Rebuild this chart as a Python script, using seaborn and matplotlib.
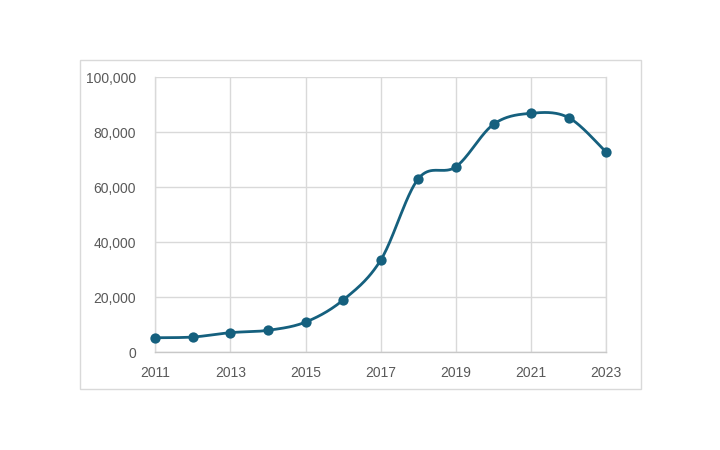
import numpy as np
import pandas as pd
import matplotlib
matplotlib.use("Agg")
import matplotlib.pyplot as plt
import seaborn as sns
from matplotlib.patches import Rectangle
from matplotlib.ticker import FuncFormatter

# ==============================
# DATI
# ==============================
years = [2011, 2012, 2013, 2014, 2015, 2016, 2017,
         2018, 2019, 2020, 2021, 2022, 2023]
values = [5200, 5450, 7050, 7900, 10900, 18950, 33500,
          63100, 67450, 82900, 86900, 85300, 72700]

x_ticks = [2011, 2013, 2015, 2017, 2019, 2021, 2023]
y_ticks = [0, 20000, 40000, 60000, 80000, 100000]

line_color = "#15607e"
grid_color = "#d9d9d9"
text_color = "#595959"

df = pd.DataFrame({"year": years, "value": values})


# curva "smooth" stile Excel (Bezier con punti di controllo Catmull-Rom)
def smooth_path(xs, ys, steps=40):
    xs = np.asarray(xs, dtype=float)
    ys = np.asarray(ys, dtype=float)
    n = len(xs)
    out_x, out_y = [], []
    t = np.linspace(0, 1, steps)
    for i in range(n - 1):
        p0 = np.array([xs[max(i - 1, 0)], ys[max(i - 1, 0)]])
        p1 = np.array([xs[i], ys[i]])
        p2 = np.array([xs[i + 1], ys[i + 1]])
        p3 = np.array([xs[min(i + 2, n - 1)], ys[min(i + 2, n - 1)]])
        c1 = p1 + (p2 - p0) / 6.0
        c2 = p2 - (p3 - p1) / 6.0
        for tt in t:
            b = ((1 - tt) ** 3) * p1 + 3 * ((1 - tt) ** 2) * tt * c1 \
                + 3 * (1 - tt) * tt ** 2 * c2 + tt ** 3 * p2
            out_x.append(b[0])
            out_y.append(b[1])
    return pd.DataFrame({"year": out_x, "value": out_y})


curve = smooth_path(df["year"], df["value"])

# ==============================
# GRAFICO
# ==============================
sns.set_style("white")
plt.rcParams["font.family"] = ["Liberation Sans", "DejaVu Sans"]

fig = plt.figure(figsize=(7.2, 4.5), dpi=100)
ax = fig.add_axes([155.3 / 720, 98 / 450, 451 / 720, 274.7 / 450])

# riquadro esterno
fig.patches.append(Rectangle((79.5 / 720, 61 / 450), 561 / 720, 329.5 / 450,
                             transform=fig.transFigure, fill=False,
                             edgecolor=grid_color, linewidth=1.0))

sns.lineplot(data=curve, x="year", y="value", ax=ax, color=line_color,
             linewidth=2.0, sort=False, estimator=None, clip_on=False,
             zorder=4)
sns.scatterplot(data=df, x="year", y="value", ax=ax, color=line_color,
                s=55, edgecolor=line_color, linewidth=0, zorder=5,
                clip_on=False)

ax.set_xlim(2011, 2023)
ax.set_ylim(0, 100000)
ax.set_xticks(x_ticks)
ax.set_yticks(y_ticks)
ax.yaxis.set_major_formatter(FuncFormatter(lambda v, p: f"{int(v):,}"))

ax.grid(True, color=grid_color, linewidth=1.0)
ax.set_axisbelow(True)
ax.spines["top"].set_visible(False)
for side in ["left", "right"]:
    ax.spines[side].set_color(grid_color)
    ax.spines[side].set_linewidth(1.0)
ax.spines["bottom"].set_color("#c8c8c8")
ax.spines["bottom"].set_linewidth(1.0)

ax.tick_params(axis="both", length=0, labelsize=10, labelcolor=text_color)
ax.tick_params(axis="y", pad=14)
ax.tick_params(axis="x", pad=10)
ax.set_xlabel("")
ax.set_ylabel("")

fig.savefig("out.png", dpi=100, facecolor="white")
